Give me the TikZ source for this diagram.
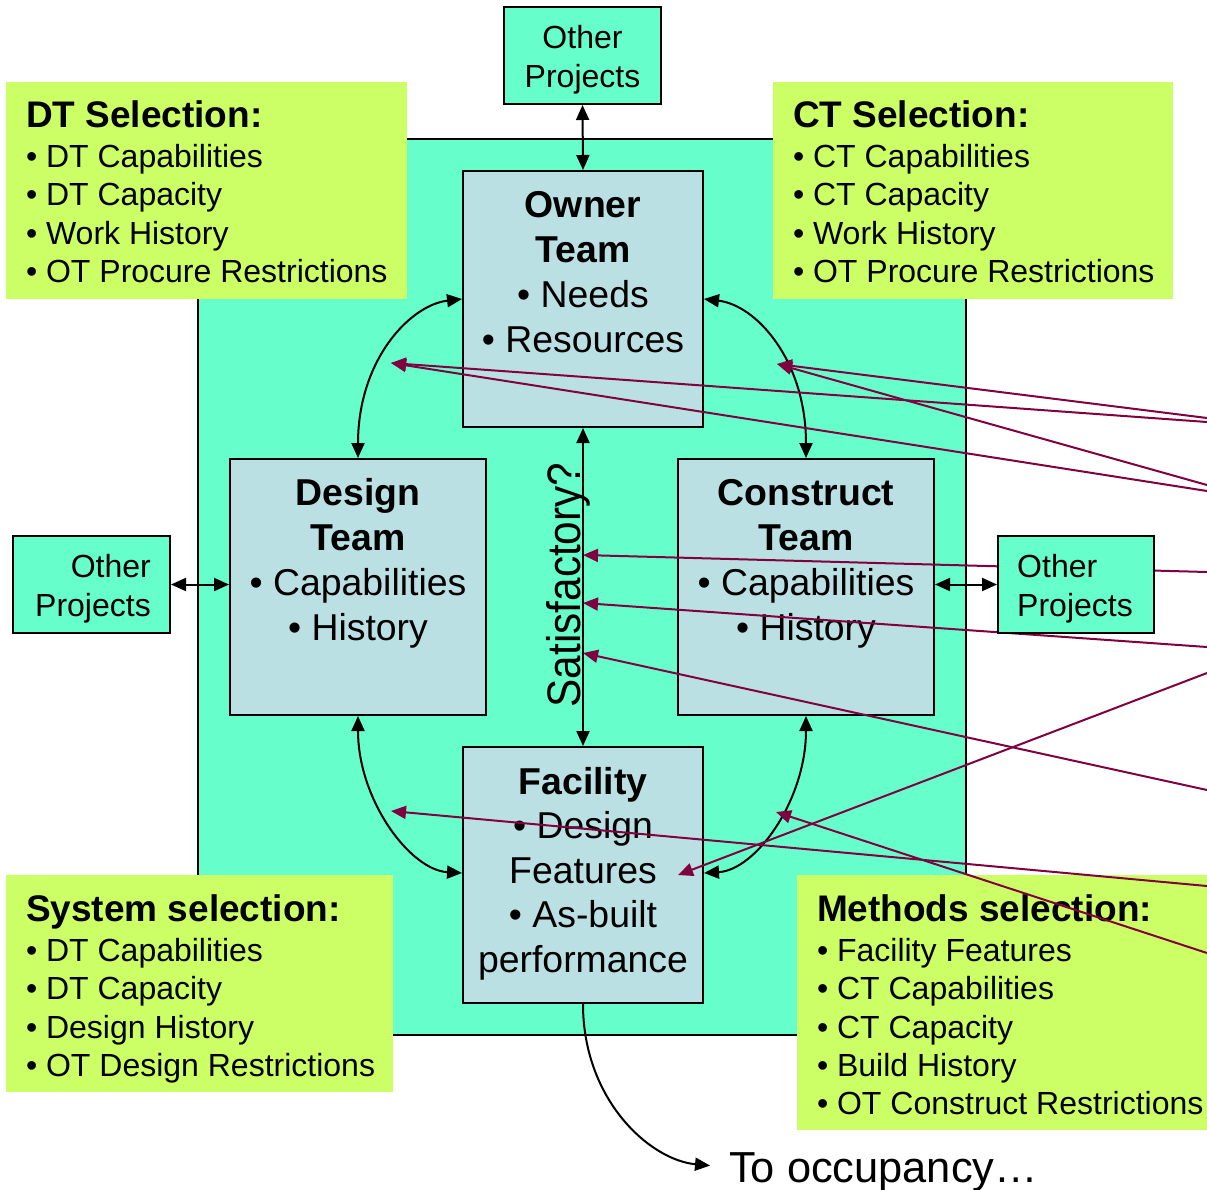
\documentclass[tikz,border=0pt]{standalone}
\usepackage{fontspec}
\setmainfont{Liberation Sans}
\usepackage{graphicx}
\usetikzlibrary{arrows.meta,positioning}
\definecolor{cAqua}{RGB}{102,255,204}
\definecolor{cBox}{RGB}{187,224,227}
\definecolor{cLime}{RGB}{204,255,102}
\definecolor{cRed}{RGB}{128,0,64}
\begin{document}
\begin{tikzpicture}[x=1pt,y=-1pt,
  frame/.style={draw=black, line width=2pt},
  teambox/.style={frame, fill=cBox, inner sep=0pt, minimum height=256pt},
  otherbox/.style={frame, fill=cAqua, minimum width=157pt, minimum height=97pt, inner sep=0pt},
  othertext/.style={inner sep=0pt, font=\fontsize{32}{39}\selectfont},
  selbox/.style={fill=cLime, inner sep=0pt},
  listtext/.style={anchor=north west, inner sep=0pt, align=left, font=\fontsize{32}{38.3}\selectfont},
  teamtext/.style={anchor=north, inner sep=0pt, align=center, font=\fontsize{37.4}{45}\selectfont},
  blk/.style={line width=2pt, draw=black},
  dbl/.style={blk, {Triangle[length=15pt,width=13pt]}-{Triangle[length=15pt,width=13pt]}},
  one/.style={blk, -{Triangle[length=15pt,width=13pt]}},
  redarr/.style={line width=2pt, draw=cRed, -{Triangle[length=15pt,width=13pt]}},
]
\useasboundingbox (0,0) rectangle (1207,1189);
\fill[white] (0,0) rectangle (1207,1189);

% main aqua panel
\node[frame, fill=cAqua, minimum width=768pt, minimum height=896pt, inner sep=0pt] (panel) at (582,587) {};

% other projects (top, left)
\node[otherbox] (otherTop) at (582.5,55.5) {};
\node[othertext, align=center] (otherTopT) at ([yshift=-4.5pt]otherTop.center) {Other\\Projects};
\node[otherbox] (otherLeft) at (91.5,584.5) {};
\node[othertext, align=right, anchor=east] (otherLeftT) at ([xshift=-20pt,yshift=-4.5pt]otherLeft.east) {Other\\Projects};

% team boxes
\node[teambox, minimum width=240pt] (owner) at (583,299) {};
\node[teambox, minimum width=256pt] (design) at (358,587) {};
\node[teambox, minimum width=256pt] (construct) at (806,587) {};
\node[teambox, minimum width=240pt] (facility) at (583,875) {};

\node[teamtext] (ownerT) at ([yshift=-21.5pt]owner.north) {\textbf{Owner}\\\textbf{Team}\\• Needs\\• Resources};
\node[teamtext] (designT) at ([yshift=-20.5pt]design.north) {\textbf{Design}\\\textbf{Team}\\• Capabilities\\• History};
\node[teamtext] (constructT) at ([yshift=-21pt]construct.north) {\textbf{Construct}\\\textbf{Team}\\• Capabilities\\• History};
\node[teamtext, font=\fontsize{37.4}{44.5}\selectfont] (facilityT) at ([yshift=-21pt]facility.north) {\textbf{Facility}\\• Design\\Features\\• As-built\\performance};

% selection boxes
\node[selbox, minimum width=401pt, minimum height=217pt] (dt) at (206.5,190.5) {};
\node[selbox, minimum width=400pt, minimum height=217pt] (ct) at (973,190.5) {};
\node[selbox, minimum width=387pt, minimum height=217pt] (sys) at (199.5,983.5) {};
\node[selbox, minimum width=420pt, minimum height=255pt] (meth) at (1007,1002.5) {};

\node[listtext] (dtT) at ([xshift=20pt,yshift=-18.5pt]dt.north west) {{\fontsize{37}{40}\selectfont\bfseries DT Selection:}\\[2pt]• DT Capabilities\\• DT Capacity\\• Work History\\• OT Procure Restrictions};
\node[listtext] (ctT) at ([xshift=20pt,yshift=-18.5pt]ct.north west) {{\fontsize{37}{40}\selectfont\bfseries CT Selection:}\\[2pt]• CT Capabilities\\• CT Capacity\\• Work History\\• OT Procure Restrictions};
\node[listtext] (sysT) at ([xshift=20pt,yshift=-19.5pt]sys.north west) {{\fontsize{37}{40}\selectfont\bfseries System selection:}\\[2pt]• DT Capabilities\\• DT Capacity\\• Design History\\• OT Design Restrictions};
\node[listtext] (methT) at ([xshift=20pt,yshift=-19.5pt]meth.north west) {{\fontsize{37}{40}\selectfont\bfseries Methods selection:}\\[2pt]• Facility Features\\• CT Capabilities\\• CT Capacity\\• Build History\\• OT Construct Restrictions};

% black connectors
\draw[dbl] (otherTop.south) -- (owner.north);
\draw[dbl] (owner.south) -- (facility.north);
\draw[dbl] (otherLeft.east) -- (otherLeft.east -| design.west);
\draw[dbl] (owner.west) .. controls (410,305) and (358,360) .. (design.north);
\draw[dbl] (owner.east) .. controls (756,305) and (806,360) .. (construct.north);
\draw[dbl] (design.south) .. controls (358,800) and (410,870) .. ([yshift=2pt]facility.west);
\draw[dbl] (construct.south) .. controls (806,800) and (756,870) .. ([yshift=2pt]facility.east);

\node[anchor=base west, inner sep=0pt, font=\fontsize{43.4}{50}\selectfont] (occ) at (729,1182) {To occupancy…};
\draw[one] (facility.south) .. controls (583,1100) and (650,1160) .. ([xshift=-19pt,yshift=6pt]occ.west);

\node[anchor=base, rotate=90, inner sep=0pt, font=\fontsize{47}{50}\selectfont] (sat) at (580,585) {\scalebox{0.9}[1]{Satisfactory?}};

% red connectors from off-picture
\coordinate (tOD) at (391,363);
\coordinate (tOC) at (777,364);
\coordinate (tS1) at (583,555);
\coordinate (tS2) at (583,603);
\coordinate (tS3) at (583,653);
\coordinate (tDF) at (391,811);
\coordinate (tFF) at (678,875);
\coordinate (tCF) at (776,812);
\coordinate (r1) at (1207,422);
\coordinate (r2) at (1207,491);
\coordinate (r3) at (1207,418);
\coordinate (r4) at (1207,485);
\coordinate (r5) at (1207,572);
\coordinate (r6) at (1207,647);
\coordinate (r7) at (1207,790);
\coordinate (r8) at (1207,886);
\coordinate (r9) at (1207,673);
\coordinate (r10) at (1207,953);
\draw[redarr] (r1) -- (tOD);
\draw[redarr] (r2) -- (tOD);
\draw[redarr] (r3) -- (tOC);
\draw[redarr] (r4) -- (tOC);
\draw[redarr] (r5) -- (tS1);
\draw[redarr] (r6) -- (tS2);
\draw[redarr] (r7) -- (tS3);
\draw[redarr] (r8) -- (tDF);
\draw[redarr] (r9) -- (tFF);
\draw[redarr] (r10) -- (tCF);

% right other projects (over the red lines)
\node[otherbox, minimum width=156pt] (otherRight) at (1076,584.5) {};
\node[othertext, align=left, anchor=west] (otherRightT) at ([xshift=20pt,yshift=-4.5pt]otherRight.west) {Other\\Projects};
\draw[dbl] (construct.east |- otherRight.west) -- (otherRight.west);
\end{tikzpicture}
\end{document}
